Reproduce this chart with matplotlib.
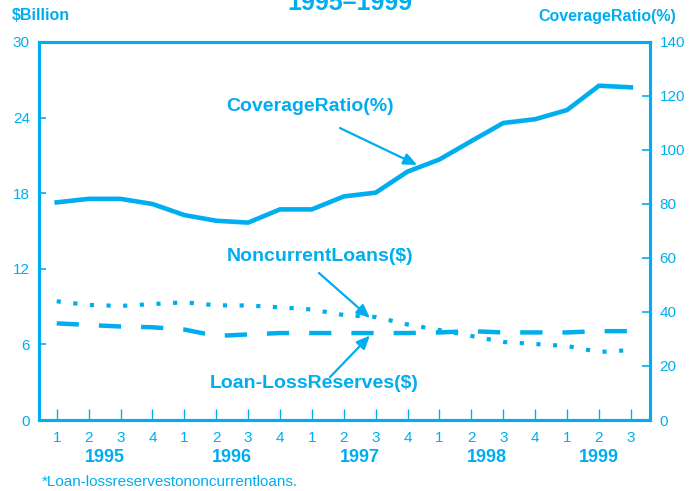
import matplotlib
matplotlib.use('Agg')
import matplotlib.pyplot as plt

# Data (quarterly, 1995 Q1 - 1999 Q3)
quarters = ['1', '2', '3', '4'] * 4 + ['1', '2', '3']
years = ['1995', '1996', '1997', '1998', '1999']
year_centers = [1.5, 5.5, 9.5, 13.5, 17]

coverage_ratio = [80.6, 81.9, 81.9, 80.0, 75.9, 73.8, 73.1, 78.0, 78.0, 82.8,
                  84.2, 92.0, 96.5, 103.3, 110.0, 111.4, 114.8, 123.8, 123.2]
noncurrent_loans = [9.42, 9.13, 9.05, 9.2, 9.34, 9.1, 9.09, 8.94, 8.77, 8.33,
                    8.17, 7.58, 7.14, 6.67, 6.19, 6.03, 5.87, 5.4, 5.55]
loss_reserves = [7.67, 7.54, 7.42, 7.36, 7.18, 6.67, 6.79, 6.9, 6.9, 6.9,
                 6.9, 6.9, 6.95, 7.05, 6.95, 6.95, 6.95, 7.05, 7.05]

C = '#00aeef'
plt.rcParams['font.family'] = ['Liberation Sans', 'DejaVu Sans']

x = list(range(len(quarters)))

fig = plt.figure(figsize=(7, 4.91), dpi=100)
ax = fig.add_axes([0.0564, 0.1446, 0.8722, 0.7699])
ax2 = ax.twinx()

# Lines
ax.plot(x, noncurrent_loans, color=C, lw=3, linestyle=(0, (1, 3)))
ax.plot(x, loss_reserves, color=C, lw=3.2, linestyle=(0, (5, 4.5)))
ax2.plot(x, coverage_ratio, color=C, lw=3.3, solid_joinstyle='round')

ax.set_xlim(-0.54, 18.6)
ax.set_ylim(0, 30)
ax2.set_ylim(0, 140)
ax.set_yticks(range(0, 31, 6))
ax2.set_yticks(range(0, 141, 20))
ax.set_xticks(x)
ax.set_xticklabels(quarters)

for a in (ax, ax2):
    for s in a.spines.values():
        s.set_color(C)
        s.set_linewidth(2.2)

ax.tick_params(axis='x', direction='in', length=8, width=1, colors=C,
               labelsize=11, pad=8)
ax.tick_params(axis='y', direction='in', length=5, width=1.2, colors=C,
               labelsize=11, pad=7)
ax2.tick_params(axis='y', direction='in', length=6, width=1.2, colors=C,
                labelsize=11, pad=7)

# Year labels under the quarters
for yc, yr in zip(year_centers, years):
    ax.text(yc, -0.1005, yr, transform=ax.get_xaxis_transform(), ha='center',
            va='center', fontsize=13, fontweight='bold', color=C)

# Series labels with arrows
arrow = dict(arrowstyle='-|>,head_length=0.8,head_width=0.35', color=C,
             lw=1.6, shrinkA=0, shrinkB=0)
ax.text(7.95, 24.9, 'CoverageRatio(%)', ha='center', va='center',
        fontsize=14, fontweight='bold', color=C)
ax.annotate('', xy=(11.3, 20.24), xytext=(8.88, 23.17), arrowprops=arrow)

ax.text(8.25, 12.94, r'NoncurrentLoans(\$)', ha='center', va='center',
        fontsize=14, fontweight='bold', color=C)
ax.annotate('', xy=(9.82, 8.1), xytext=(8.22, 11.67), arrowprops=arrow)

ax.text(8.07, 2.86, r'Loan-LossReserves(\$)', ha='center', va='center',
        fontsize=14, fontweight='bold', color=C)
ax.annotate('', xy=(9.82, 6.7), xytext=(8.57, 3.41), arrowprops=arrow)

# Header texts
fig.text(0.5, 1 - 10 / 491, '1995\u20131999', ha='center', va='baseline',
         fontsize=18, fontweight='bold', color=C)
fig.text(12 / 700, 1 - 15 / 491, r'\$Billion', ha='left', va='center',
         fontsize=11.5, fontweight='bold', color=C)
fig.text(676 / 700, 1 - 16 / 491, 'CoverageRatio(%)', ha='right', va='center',
         fontsize=11.5, fontweight='bold', color=C)
fig.text(42 / 700, 1 - 482 / 491, '*Loan-lossreservestononcurrentloans.',
         ha='left', va='center', fontsize=11, color=C)

fig.savefig('out.png', dpi=100)
